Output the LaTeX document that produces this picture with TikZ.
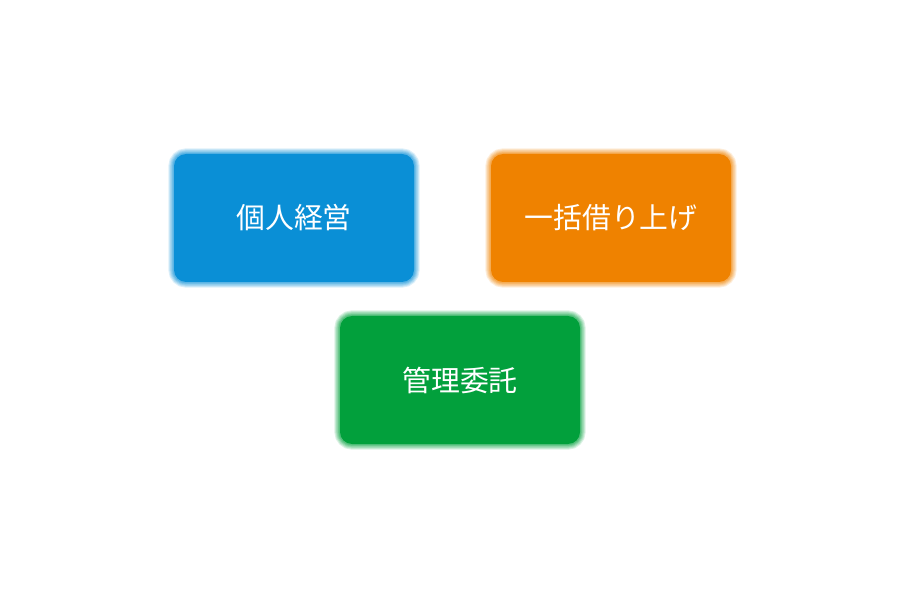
\documentclass[tikz,border=0pt]{standalone}
\usepackage{fontspec}
\newfontfamily\jpfont{Noto Sans CJK JP}
\definecolor{kojinblue}{HTML}{0A8FD6}
\definecolor{ikkatsuorange}{HTML}{EF8200}
\definecolor{kanrigreen}{HTML}{02A03C}
\begin{document}
\begin{tikzpicture}[scale=1, transform shape]
    \tikzset{softbox/.style={rounded corners=0.12cm, minimum width=2.40cm, minimum height=1.28cm,
        text=white, font=\jpfont\fontsize{8.2pt}{10pt}\selectfont, fill=#1,
        preaction={draw=#1, line width=3.2pt, draw opacity=.14},
        preaction={draw=#1, line width=2.6pt, draw opacity=.16},
        preaction={draw=#1, line width=2.0pt, draw opacity=.18},
        preaction={draw=#1, line width=1.4pt, draw opacity=.22},
        preaction={draw=#1, line width=0.8pt, draw opacity=.28}}}
    \useasboundingbox (0,0) rectangle (9.06,6);
    \node[softbox=kojinblue] (kojin) at (2.94,3.82) {個人経営};
    \node[softbox=ikkatsuorange] (ikkatsu) at (6.11,3.82) {一括借り上げ};
    \node[softbox=kanrigreen] (kanri) at (4.60,2.20) {管理委託};
    \end{tikzpicture}
\end{document}
